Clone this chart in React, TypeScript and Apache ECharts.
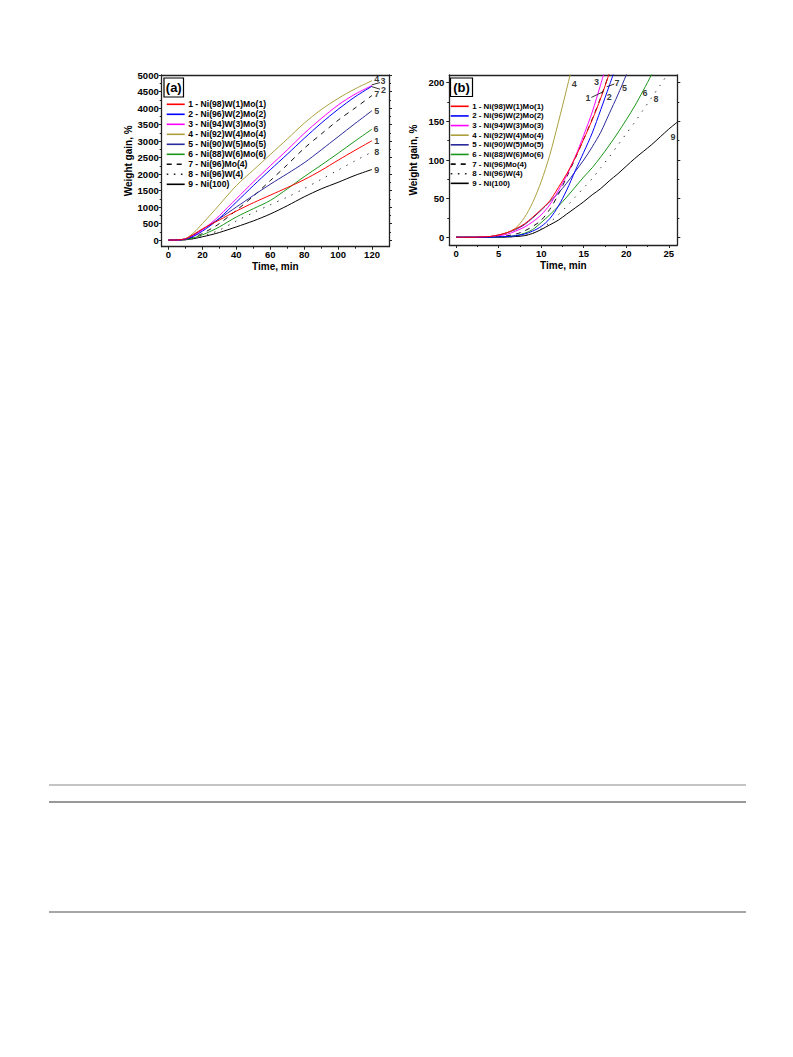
import React, { useEffect, useRef } from "react";
import * as echarts from "echarts";

// ---------- data ----------
const SERIES_NAMES = [
  "1 - Ni(98)W(1)Mo(1)",
  "2 - Ni(96)W(2)Mo(2)",
  "3 - Ni(94)W(3)Mo(3)",
  "4 - Ni(92)W(4)Mo(4)",
  "5 - Ni(90)W(5)Mo(5)",
  "6 - Ni(88)W(6)Mo(6)",
  "7 - Ni(96)Mo(4)",
  "8 - Ni(96)W(4)",
  "9 - Ni(100)",
];

// panel (a): time, min
const TIME_A = [0, 5, 10, 15, 20, 25, 30, 40, 50, 60, 70, 80, 90, 100, 110, 120];
const GAIN_A_1 = [0, 5, 40, 180, 340, 480, 610, 880, 1130, 1360, 1590, 1830, 2110, 2420, 2720, 3010];
const GAIN_A_2 = [0, 3, 28, 120, 270, 450, 660, 1150, 1650, 2130, 2600, 3080, 3540, 3960, 4340, 4660];
const GAIN_A_3 = [0, 3, 30, 140, 310, 510, 740, 1250, 1760, 2250, 2730, 3230, 3680, 4090, 4420, 4680];
const GAIN_A_4 = [0, 5, 45, 230, 500, 780, 1070, 1650, 2120, 2590, 3060, 3540, 3950, 4290, 4580, 4830];
const GAIN_A_5 = [0, 5, 35, 160, 320, 480, 650, 1000, 1350, 1690, 2010, 2340, 2730, 3130, 3530, 3920];
const GAIN_A_6 = [0, 2, 15, 70, 160, 270, 400, 700, 950, 1200, 1550, 1920, 2270, 2630, 3000, 3360];
const GAIN_A_7 = [0, 2, 20, 90, 200, 340, 500, 900, 1330, 1800, 2280, 2780, 3210, 3630, 4000, 4380];
const GAIN_A_8 = [0, 2, 12, 50, 110, 200, 300, 580, 830, 1070, 1300, 1560, 1840, 2120, 2400, 2670];
const GAIN_A_9 = [0, 1, 10, 45, 100, 160, 230, 400, 580, 790, 1040, 1310, 1550, 1750, 1960, 2140];

// panel (b): time, min (each curve runs until it leaves the plot)
const TIME_B = [0, 1, 2, 3, 4, 5, 6, 7, 8, 9, 10, 11, 12, 13, 14, 15, 16, 17, 18, 19, 20, 21, 22, 23, 24, 25, 26];
const GAIN_B_1 = [0, 0, 0, 0.5, 1, 3, 6, 11, 17, 26, 36, 47, 64, 82, 103, 127, 152, 180, 212];
const GAIN_B_2 = [0, 0, 0, 0, 0, 0.5, 1, 2, 4, 8, 14, 24, 40, 61, 86, 110, 135, 165, 196, 228];
const GAIN_B_3 = [0, 0, 0, 0.3, 1, 2, 4, 8, 13, 20, 29, 42, 60, 80, 104, 132, 162, 198, 235];
const GAIN_B_4 = [0, 0, 0, 0.5, 1, 3, 6, 12, 25, 45, 72, 106, 148, 192, 238];
const GAIN_B_5 = [0, 0, 0, 0.5, 1, 3, 6, 10, 16, 25, 35, 46, 57, 70, 85, 100, 117, 136, 160, 184, 210, 238];
const GAIN_B_6 = [0, 0, 0, 0, 0, 0.3, 1, 2, 5, 10, 19, 29, 40, 52, 65, 78, 90, 104, 119, 135, 152, 170, 190, 211, 233];
const GAIN_B_7 = [0, 0, 0, 0, 0.3, 1, 2, 4, 8, 14, 22, 36, 55, 78, 102, 127, 153, 181, 212];
const GAIN_B_8 = [0, 0, 0, 0, 0, 0, 0.3, 1, 2, 5, 11, 19, 29, 40, 52, 64, 76, 90, 104, 119, 134, 149, 165, 181, 197, 213];
const GAIN_B_9 = [0, 0, 0, 0, 0, 0, 0.3, 1, 2, 5, 10, 16, 22, 30, 38, 46, 55, 63, 73, 82, 92, 102, 111, 120, 130, 140, 149];

// axis ticks
const X_TICKS_A = [0, 20, 40, 60, 80, 100, 120];
const X_MINOR_A = [10, 30, 50, 70, 90, 110];
const Y_TICKS_A = [0, 500, 1000, 1500, 2000, 2500, 3000, 3500, 4000, 4500, 5000];
const Y_MINOR_A = [250, 750, 1250, 1750, 2250, 2750, 3250, 3750, 4250, 4750];
const X_TICKS_B = [0, 5, 10, 15, 20, 25];
const X_MINOR_B = [2.5, 7.5, 12.5, 17.5, 22.5];
const Y_TICKS_B = [0, 50, 100, 150, 200];
const Y_MINOR_B = [25, 75, 125, 175];

// curve number labels [text, time, gain]
const CURVE_LABELS_A: [string, number, number][] = [
  ["4", 122.8, 4880],
  ["3", 126.5, 4820],
  ["2", 126.7, 4540],
  ["7", 122.8, 4418],
  ["5", 122.8, 3921],
  ["6", 122.3, 3358],
  ["1", 122.8, 3012],
  ["8", 122.8, 2670],
  ["9", 122.8, 2124],
];
const CURVE_LABELS_B: [string, number, number][] = [
  ["4", 13.9, 199],
  ["3", 16.5, 201],
  ["7", 18.9, 200],
  ["1", 15.5, 180],
  ["2", 18.0, 182],
  ["5", 19.8, 193],
  ["6", 22.2, 187],
  ["8", 23.5, 179],
  ["9", 25.5, 130],
];
const LEADERS_A = [
  [[119.8, 4700], [124.7, 4770]],
  [[119.8, 4648], [124.7, 4570]],
];
const LEADERS_B = [
  [[15.9, 181], [17.3, 188.4]],
  [[17.7, 194.8], [18.6, 198.3]],
];

const GAINS_A = [GAIN_A_1, GAIN_A_2, GAIN_A_3, GAIN_A_4, GAIN_A_5, GAIN_A_6, GAIN_A_7, GAIN_A_8, GAIN_A_9];
const GAINS_B = [GAIN_B_1, GAIN_B_2, GAIN_B_3, GAIN_B_4, GAIN_B_5, GAIN_B_6, GAIN_B_7, GAIN_B_8, GAIN_B_9];

// ---------- styles ----------
const COLORS = ["#ff0000", "#0000ff", "#ff00ff", "#aaa03c", "#2a2a9c", "#1a961a", "#111111", "#222222", "#000000"];
const LINE_TYPES: any[] = ["solid", "solid", "solid", "solid", "solid", "solid", [5, 5], [1.3, 6.5], "solid"];
const LEGEND_DASH: any[] = [null, null, null, null, null, null, [5, 5], [1.6, 5.5], null];
const FONT = '"Liberation Sans", Arial, Helvetica, sans-serif';
const AXIS_COLOR = "#222";

function legendGraphics(x0: number, y0: number, step: number, fontSize: number) {
  const items: any[] = [];
  SERIES_NAMES.forEach((name, i) => {
    const y = y0 + step * i;
    items.push({
      type: "line",
      shape: { x1: x0, y1: y, x2: x0 + 18, y2: y },
      style: { stroke: COLORS[i], lineWidth: 1.6, lineDash: LEGEND_DASH[i] || undefined },
      z: 30,
    });
    items.push({
      type: "text",
      x: x0 + 21.5,
      y,
      style: { text: name, fill: "#000", font: `bold ${fontSize}px ${FONT}`, align: "left", verticalAlign: "middle" },
      z: 30,
    });
  });
  return items;
}

function buildOption() {
  const axisLine = { show: true, onZero: false, lineStyle: { color: AXIS_COLOR, width: 1.3 } };
  const labelStyle = { color: "#000", fontSize: 9.5, fontWeight: "bold", fontFamily: FONT, formatter: (v: number) => String(v) };
  const nameStyle = { color: "#000", fontSize: 10, fontWeight: "bold", fontFamily: FONT };

  const mainAxis = (grid: number, pos: string, min: number, max: number, ticks: number[], name: string, nameGap: number, margin: number) => ({
    type: "value", gridIndex: grid, position: pos, min, max,
    axisLine,
    axisTick: { show: true, inside: false, customValues: ticks, length: 3, lineStyle: { color: AXIS_COLOR, width: 1 } },
    axisLabel: { show: true, customValues: ticks, margin, ...labelStyle },
    splitLine: { show: false },
    name, nameLocation: "middle", nameGap, nameTextStyle: nameStyle,
  });
  const minorAxis = (grid: number, pos: string, min: number, max: number, ticks: number[]) => ({
    type: "value", gridIndex: grid, position: pos, min, max,
    axisLine: { show: false, onZero: false },
    axisTick: { show: true, inside: false, customValues: ticks, length: 2, lineStyle: { color: AXIS_COLOR, width: 1 } },
    axisLabel: { show: false },
    splitLine: { show: false },
  });
  const mirrorAxis = (grid: number, pos: string, min: number, max: number, ticks: number[] | null) => ({
    type: "value", gridIndex: grid, position: pos, min, max,
    axisLine,
    axisTick: ticks ? { show: true, inside: false, customValues: ticks, length: 3, lineStyle: { color: AXIS_COLOR, width: 1 } } : { show: false },
    axisLabel: { show: false },
    splitLine: { show: false },
  });

  const xAxis = [
    mainAxis(0, "bottom", -4, 130, X_TICKS_A, "Time, min", 15, 3),
    minorAxis(0, "bottom", -4, 130, X_MINOR_A),
    mirrorAxis(0, "top", -4, 130, null),
    mainAxis(1, "bottom", -0.8, 26, X_TICKS_B, "Time, min", 15, 3),
    minorAxis(1, "bottom", -0.8, 26, X_MINOR_B),
    mirrorAxis(1, "top", -0.8, 26, null),
  ];
  const yAxis = [
    mainAxis(0, "left", -200, 5000, Y_TICKS_A, "Weight gain, %", 27, 3),
    minorAxis(0, "left", -200, 5000, Y_MINOR_A),
    mirrorAxis(0, "right", -200, 5000, Y_TICKS_A),
    minorAxis(0, "right", -200, 5000, Y_MINOR_A),
    mainAxis(1, "left", -10, 210, Y_TICKS_B, "Weight gain, %", 31, 5),
    minorAxis(1, "left", -10, 210, Y_MINOR_B),
    mirrorAxis(1, "right", -10, 210, Y_TICKS_B),
    minorAxis(1, "right", -10, 210, Y_MINOR_B),
  ];

  const series: any[] = [];
  const curveSeries = (times: number[], gains: number[][], xi: number, yi: number) => {
    gains.forEach((g, i) => {
      series.push({
        type: "line",
        name: SERIES_NAMES[i],
        xAxisIndex: xi,
        yAxisIndex: yi,
        data: g.map((v, j) => [times[j], v]),
        symbol: "none",
        showSymbol: false,
        smooth: 0.3,
        clip: true,
        lineStyle: { color: COLORS[i], width: 1, type: LINE_TYPES[i] },
        itemStyle: { color: COLORS[i] },
        z: 10 - i,
        silent: true,
      });
    });
  };
  curveSeries(TIME_A, GAINS_A, 0, 0);
  curveSeries(TIME_B, GAINS_B, 3, 4);

  const labelSeries = (labels: [string, number, number][], xi: number, yi: number) => ({
    type: "scatter",
    xAxisIndex: xi,
    yAxisIndex: yi,
    symbolSize: 1,
    itemStyle: { color: "rgba(0,0,0,0)" },
    silent: true,
    clip: false,
    data: labels.map(([txt, t, w]) => ({ value: [t, w], label: { formatter: txt } })),
    label: { show: true, position: "inside", color: "#000", fontSize: 9, fontWeight: "bold", fontFamily: FONT },
    z: 20,
  });
  series.push(labelSeries(CURVE_LABELS_A, 0, 0));
  series.push(labelSeries(CURVE_LABELS_B, 3, 4));

  const leaderSeries = (lines: number[][][], xi: number, yi: number) =>
    lines.map((pts) => ({
      type: "line",
      xAxisIndex: xi,
      yAxisIndex: yi,
      data: pts,
      symbol: "none",
      clip: false,
      silent: true,
      lineStyle: { color: "#000", width: 0.8 },
      z: 20,
    }));
  series.push(...leaderSeries(LEADERS_A, 0, 0));
  series.push(...leaderSeries(LEADERS_B, 3, 4));

  return {
    animation: false,
    backgroundColor: "#ffffff",
    grid: [
      { left: 161.7, top: 75, width: 227.3, height: 171.7, containLabel: false },
      { left: 449.3, top: 75, width: 228, height: 170, containLabel: false },
    ],
    xAxis,
    yAxis,
    series,
    graphic: [
      { type: "rect", shape: { x: 164, y: 78, width: 19.5, height: 19 }, style: { fill: "#fff", stroke: "#000", lineWidth: 1.2 }, z: 30 },
      { type: "text", x: 173.75, y: 87.5, style: { text: "(a)", fill: "#000", font: `bold 13px ${FONT}`, align: "center", verticalAlign: "middle" }, z: 31 },
      { type: "rect", shape: { x: 450.5, y: 78, width: 22, height: 18.5 }, style: { fill: "#fff", stroke: "#000", lineWidth: 1.2 }, z: 30 },
      { type: "text", x: 461.5, y: 87.3, style: { text: "(b)", fill: "#000", font: `bold 13px ${FONT}`, align: "center", verticalAlign: "middle" }, z: 31 },
      ...legendGraphics(166.7, 104.3, 10, 8.6),
      ...legendGraphics(450.7, 106.3, 9.63, 7.9),
      { type: "line", shape: { x1: 49, y1: 785, x2: 746, y2: 785 }, style: { stroke: "#8a8a8a", lineWidth: 1.2 } },
      { type: "line", shape: { x1: 49, y1: 802, x2: 746, y2: 802 }, style: { stroke: "#333", lineWidth: 1 } },
      { type: "line", shape: { x1: 49, y1: 912, x2: 746, y2: 912 }, style: { stroke: "#8a8a8a", lineWidth: 1.3 } },
    ],
  };
}

export default function App() {
  const ref = useRef<HTMLDivElement>(null);
  useEffect(() => {
    if (!ref.current) return;
    const chart = echarts.init(ref.current, null, { renderer: "svg" });
    chart.setOption(buildOption() as any);
    return () => chart.dispose();
  }, []);
  return (
    <div
      ref={ref}
      style={{ position: "absolute", left: 0, top: 0, width: 793, height: 1057, background: "#fff" }}
    />
  );
}
